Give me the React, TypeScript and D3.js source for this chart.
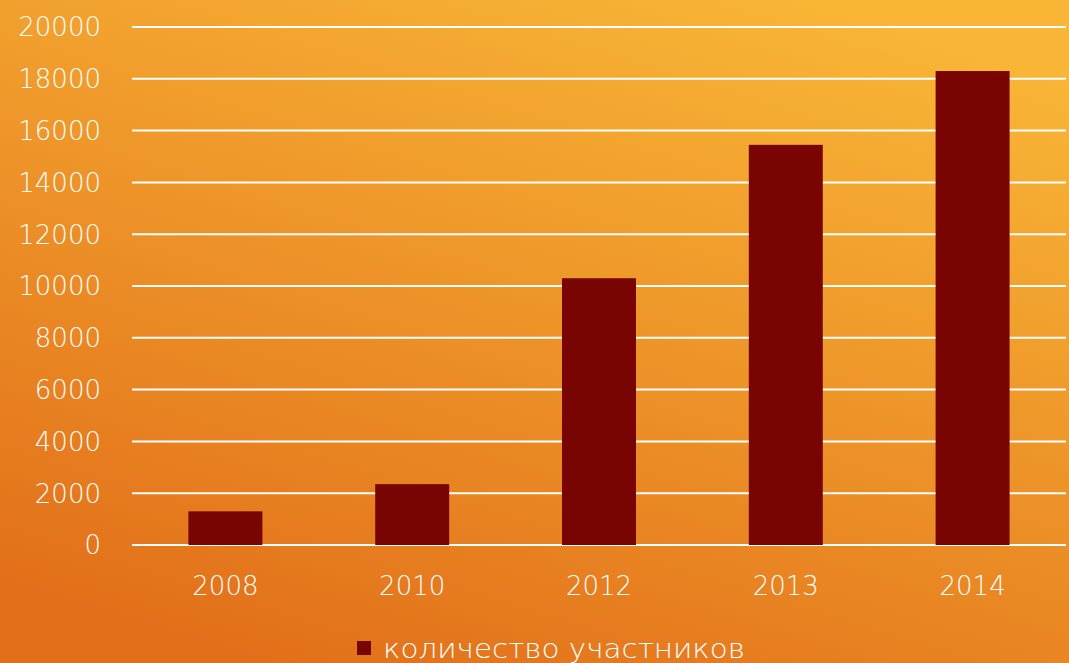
import React, { useRef, useEffect } from "react";
import * as d3 from "d3";

const years = ["2008", "2010", "2012", "2013", "2014"];
const participants = [1300, 2350, 10300, 15450, 18300];
const yTicks = [0, 2000, 4000, 6000, 8000, 10000, 12000, 14000, 16000, 18000, 20000];
const seriesName = "количество участников";

const App = () => {
  const node: any = useRef();

  useEffect(() => {
    const width = 1069,
      height = 663;
    const svg = d3.select(node.current);
    svg.selectAll("*").remove();
    svg.attr("width", width).attr("height", height);

    const font = "'DejaVu Sans', sans-serif";

    // background gradient
    const defs = svg.append("defs");
    const grad = defs
      .append("linearGradient")
      .attr("id", "bg")
      .attr("x1", "0.75")
      .attr("y1", "0")
      .attr("x2", "0.25")
      .attr("y2", "1");
    grad.append("stop").attr("offset", "0%").attr("stop-color", "#F8B536");
    grad.append("stop").attr("offset", "100%").attr("stop-color", "#E2701A");
    svg.append("rect").attr("width", width).attr("height", height).attr("fill", "url(#bg)");

    const x = d3.scaleBand().domain(years).range([132, 1066]).paddingInner(0.604).paddingOuter(0.302);
    const y = d3.scaleLinear().domain([0, 20000]).range([545, 27]);

    // grid
    svg
      .append("g")
      .selectAll("line")
      .data(yTicks)
      .enter()
      .append("line")
      .attr("x1", 132)
      .attr("x2", 1066)
      .attr("y1", d => y(d))
      .attr("y2", d => y(d))
      .attr("stroke", "white")
      .attr("stroke-width", 2);

    // y labels
    svg
      .append("g")
      .selectAll("text")
      .data(yTicks)
      .enter()
      .append("text")
      .attr("x", 101)
      .attr("y", d => y(d))
      .attr("dy", "0.36em")
      .attr("text-anchor", "end")
      .attr("fill", "white")
      .attr("font-family", font)
      .attr("font-weight", 200)
      .attr("font-size", 26)
      .text(d => String(d));

    // bars
    svg
      .append("g")
      .selectAll("rect")
      .data(participants)
      .enter()
      .append("rect")
      .attr("x", (_, i) => x(years[i]) as number)
      .attr("width", x.bandwidth())
      .attr("y", d => y(d))
      .attr("height", d => y(0) - y(d))
      .attr("fill", "#780502");

    // x labels
    svg
      .append("g")
      .selectAll("text")
      .data(years)
      .enter()
      .append("text")
      .attr("x", d => (x(d) as number) + x.bandwidth() / 2)
      .attr("y", 595)
      .attr("text-anchor", "middle")
      .attr("fill", "white")
      .attr("font-family", font)
      .attr("font-weight", 200)
      .attr("font-size", 26)
      .text(d => d);

    // legend
    const legend = svg.append("g");
    legend.append("rect").attr("x", 357).attr("y", 641).attr("width", 14).attr("height", 14).attr("fill", "#780502");
    legend
      .append("text")
      .attr("x", 383)
      .attr("y", 658)
      .attr("fill", "white")
      .attr("font-family", font)
      .attr("font-weight", 200)
      .attr("font-size", 26)
      .attr("textLength", 362)
      .attr("lengthAdjust", "spacingAndGlyphs")
      .text(seriesName);
  }, []);

  return (
    <div style={{ position: "fixed", left: 0, top: 0 }}>
      <svg ref={node}></svg>
    </div>
  );
};

export default App;
